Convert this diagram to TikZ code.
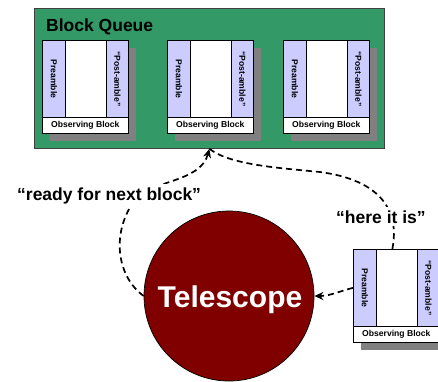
\documentclass[tikz,border=0pt]{standalone}
\usepackage{fontspec}
\setmainfont{Liberation Sans}
\usetikzlibrary{arrows.meta}

\definecolor{queuegreen}{HTML}{339966}
\definecolor{stripblue}{HTML}{CCCCFF}
\definecolor{scopered}{HTML}{800000}
\definecolor{shadowgray}{HTML}{808080}

\tikzset{
  flow/.style={line width=1.7, dash pattern=on 6 off 4},
  tipped/.style={-{Stealth[length=9,width=8]}},
  queuebox/.style={draw=black!75, line width=0.8, fill=queuegreen,
    minimum width=350, minimum height=140, inner sep=0, anchor=north west},
  blockbody/.style={draw=black, line width=0.7, fill=white,
    minimum width=86, minimum height=93, inner sep=0, anchor=north west},
  lblstrip/.style={draw=black, line width=0.7, fill=white,
    minimum width=86, minimum height=16, inner sep=0, anchor=south west,
    font=\bfseries\fontsize{8.6}{9}\selectfont},
  prestrip/.style={draw=black, line width=0.7, fill=stripblue,
    minimum width=23, minimum height=77, inner sep=0, anchor=north west},
  poststrip/.style={draw=black, line width=0.7, fill=stripblue,
    minimum width=22, minimum height=77, inner sep=0, anchor=north east},
  striptext/.style={rotate=-90, inner sep=0,
    font=\bfseries\fontsize{8.6}{9}\selectfont},
  saying/.style={fill=white, inner sep=3, anchor=base west,
    font=\bfseries\fontsize{17.5}{20}\selectfont},
}

% one observing block with its shadow: name, left x, top y
\newcommand{\obsblock}[3]{%
  \fill[shadowgray] ({#2+8},{#3+8}) rectangle ({#2+94},{#3+101});
  \node[blockbody] (#1) at (#2,#3) {};
  \node[lblstrip] (#1-lbl) at (#1.south west) {Observing Block};
  \node[prestrip] (#1-pre) at (#1.north west) {};
  \node[poststrip] (#1-post) at (#1.north east) {};
  \node[striptext] (#1-pretxt) at (#1-pre.center) {Preamble};
  \node[striptext] (#1-posttxt) at (#1-post.center) {“Post-amble”};
}

\begin{document}
\begin{tikzpicture}[x=1pt, y=-1pt]
  \useasboundingbox (0,0) rectangle (438,381);
  \clip (0,0) rectangle (438,381);

  % the queue of blocks
  \node[queuebox] (queue) at (34,8) {};
  \node[anchor=base west, inner sep=0,
        font=\bfseries\fontsize{17.5}{20}\selectfont] (qtitle) at (46,31) {Block Queue};
  \obsblock{blkA}{42}{40}
  \obsblock{blkB}{167}{40}
  \obsblock{blkC}{283}{40}

  % the block handed to the telescope
  \obsblock{blkD}{353}{249}

  % telescope
  \node[circle, draw=black, line width=0.7, fill=scopered,
        minimum size=170, inner sep=0] (tel) at (229,296) {};
  \node[anchor=base, inner sep=0, text=white,
        font=\bfseries\fontsize{30}{32}\selectfont] (tellbl) at (230,307) {Telescope};

  % telescope asks for the next block
  \draw[flow, tipped] (tel.west)
      .. controls (115,275) and (112,230) .. (135,200)
      .. controls (150,180) and (200,183) .. (queue.south);
  % queue hands the block over
  \draw[flow] (queue.south)
      .. controls (230,165) and (280,168) .. (320,172)
      .. controls (380,180) and (400,210) .. ([xshift=-4]blkD.north);
  \draw[flow, tipped] (blkD-pre.west)
      .. controls (340,291) and (330,296) .. (tel.east);

  \node[saying] (ready) at (14,200) {“ready for next block”};
  \node[saying] (here) at (333,223) {“here it is”};
\end{tikzpicture}
\end{document}
